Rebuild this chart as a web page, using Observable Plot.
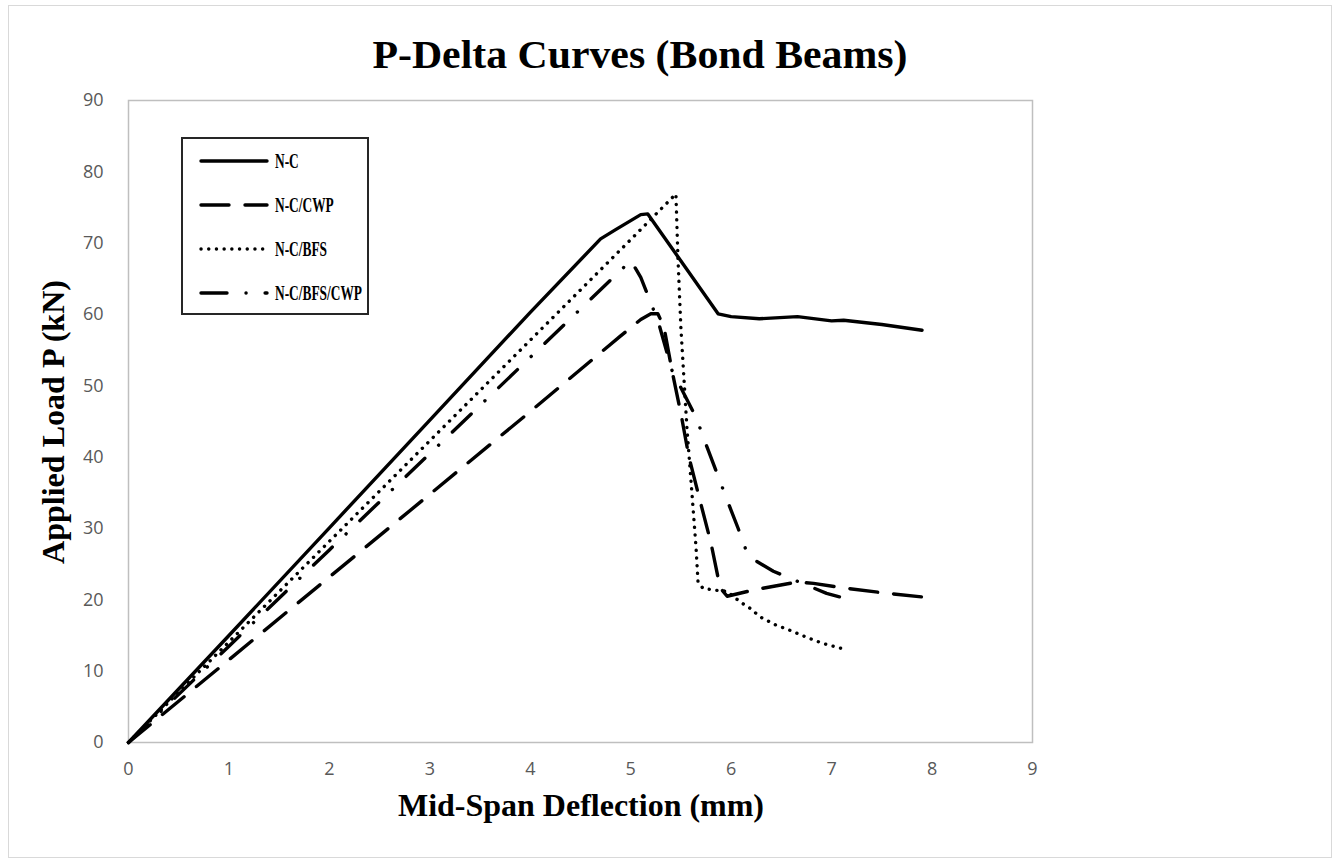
<!DOCTYPE html>
<html>
<head>
<meta charset="utf-8">
<script src="https://cdn.jsdelivr.net/npm/d3@7"></script>
<script src="https://cdn.jsdelivr.net/npm/@observablehq/plot@0.6"></script>
<style>
html, body { margin: 0; padding: 0; background: #fff; }
#wrap { position: relative; width: 1340px; height: 865px; overflow: hidden; background: #fff; }
#border { position: absolute; left: 8px; top: 5px; width: 1324px; height: 853px; border: 1px solid #d9d9d9; box-sizing: border-box; }
#wrap svg { position: absolute; left: 0; top: 0; }
</style>
</head>
<body>
<div id="wrap"><div id="border"></div></div>
<script>
// ---- Data ----
const seriesNames = ["N-C", "N-C/CWP", "N-C/BFS", "N-C/BFS/CWP"];

const ncX = [0, 1, 2, 3, 4, 4.7, 4.85, 5.1, 5.17, 5.87, 6.0, 6.28, 6.66, 7.0, 7.12, 7.5, 7.9];
const ncY = [0, 15.0, 30.1, 45.2, 60.3, 70.6, 71.9, 74.0, 74.1, 60.1, 59.7, 59.4, 59.7, 59.1, 59.2, 58.6, 57.8];

const cwpX = [0, 1, 2, 3, 4, 4.9, 5.1, 5.2, 5.27, 5.33, 5.41, 5.5, 5.58, 5.69, 5.8, 5.89, 5.96, 6.23, 6.66, 6.82, 7.1, 7.5, 7.9];
const cwpY = [0, 11.6, 23.2, 34.8, 46.4, 57.0, 59.3, 60.1, 60.1, 58.3, 52.2, 46.1, 40.0, 33.9, 27.9, 21.7, 20.5, 21.4, 22.5, 22.3, 21.7, 21.0, 20.4];

const bfsX = [0, 1, 2, 3, 4, 5, 5.45, 5.47, 5.5, 5.53, 5.56, 5.6, 5.65, 5.67, 5.72, 5.87, 5.96, 6.09, 6.19, 6.29, 6.44, 6.59, 6.76, 6.91, 7.15];
const bfsY = [0, 14.1, 28.2, 42.3, 56.4, 70.5, 76.9, 68.0, 58.0, 51.0, 44.0, 36.7, 27.4, 22.5, 21.6, 21.3, 21.2, 19.7, 18.8, 17.6, 16.5, 15.7, 14.7, 13.9, 13.0];

const bcX = [0, 1, 2, 3, 4, 4.96, 5.0, 5.1, 5.21, 5.28, 5.41, 5.53, 5.65, 5.76, 5.86, 5.97, 6.07, 6.17, 6.42, 6.66, 6.95, 7.14];
const bcY = [0, 13.5, 27.0, 40.5, 54.0, 67.0, 67.6, 65.2, 61.3, 58.7, 52.2, 48.9, 45.6, 41.4, 37.7, 33.6, 30.0, 26.1, 24.0, 22.6, 20.9, 20.2];

const xTicks = [0, 1, 2, 3, 4, 5, 6, 7, 8, 9];
const yTicks = [0, 10, 20, 30, 40, 50, 60, 70, 80, 90];

const titleText = "P-Delta Curves (Bond Beams)";
const xTitle = "Mid-Span Deflection (mm)";
const yTitle = "Applied Load P (kN)";

// ---- Styles ----
const dashStyles = [null, "28,16", "0.1,7.6", "26,19,0.1,19"];
const lineW = 3.4;
const serif = "'Liberation Serif', 'Times New Roman', serif";
const tickFont = "'Open Sans', 'Liberation Sans', sans-serif";

const seriesXY = [[ncX, ncY], [cwpX, cwpY], [bfsX, bfsY], [bcX, bcY]];
const tables = seriesXY.map(([xs, ys], k) => xs.map((x, i) => ({series: seriesNames[k], x, y: ys[i]})));

const W = 1340, H = 865;
const plot = Plot.plot({
  width: W, height: H,
  marginLeft: 128, marginRight: 308, marginTop: 100, marginBottom: 123,
  style: {background: "transparent", fontFamily: tickFont},
  x: {domain: [0, 9]},
  y: {domain: [0, 90]},
  marks: [
    Plot.frame({stroke: "#bfbfbf", strokeWidth: 1.5}),
    Plot.axisX({ticks: xTicks, tickSize: 0, tickPadding: 20, fontSize: 18, fill: "#595959", label: null, tickFormat: d => String(d)}),
    Plot.axisY({ticks: yTicks, tickSize: 0, tickPadding: 25, fontSize: 18, fill: "#595959", label: null, tickFormat: d => String(d)}),
    ...tables.map((t, k) => Plot.line(t, {
      x: "x", y: "y", stroke: "#000", strokeWidth: lineW,
      strokeDasharray: dashStyles[k] || undefined,
      strokeLinecap: "round", strokeLinejoin: "round"
    }))
  ]
});
document.getElementById("wrap").appendChild(plot);

// ---- Overlay: titles and legend ----
const svg = d3.select("#wrap").append("svg").attr("width", W).attr("height", H);

function squish(sel, len) {
  sel.attr("textLength", len).attr("lengthAdjust", "spacingAndGlyphs");
}

const t = svg.append("text").attr("x", 640).attr("y", 68).attr("text-anchor", "middle")
  .style("font-family", serif).style("font-weight", "bold").style("font-size", "41px").attr("fill", "#000")
  .text(titleText);
squish(t, 535);

const xt = svg.append("text").attr("x", 581).attr("y", 816).attr("text-anchor", "middle")
  .style("font-family", serif).style("font-weight", "bold").style("font-size", "32px").attr("fill", "#000")
  .text(xTitle);
squish(xt, 366);

const yt = svg.append("text").attr("transform", "translate(64,422) rotate(-90)").attr("text-anchor", "middle")
  .style("font-family", serif).style("font-weight", "bold").style("font-size", "32px").attr("fill", "#000")
  .text(yTitle);
squish(yt, 284);

// legend
const lg = svg.append("g").attr("transform", "translate(182,138)");
lg.append("rect").attr("x", 0).attr("y", 0).attr("width", 186).attr("height", 176)
  .attr("fill", "#fff").attr("stroke", "#262626").attr("stroke-width", 2);
const texts = [];
seriesNames.forEach((name, k) => {
  const cy = 23 + k * 44;
  lg.append("line").attr("x1", 19).attr("x2", 85).attr("y1", cy).attr("y2", cy)
    .attr("stroke", "#000").attr("stroke-width", lineW).attr("stroke-linecap", "round")
    .attr("stroke-dasharray", dashStyles[k]);
  const tx = lg.append("text").attr("x", 93).attr("y", cy + 7)
    .style("font-family", serif).style("font-weight", "bold").style("font-size", "20px").attr("fill", "#000")
    .text(name);
  texts.push(tx);
});
const longest = d3.max(texts, s => s.node().getComputedTextLength());
const k = 87 / longest;
texts.forEach(s => squish(s, s.node().getComputedTextLength() * k));
</script>
</body>
</html>
